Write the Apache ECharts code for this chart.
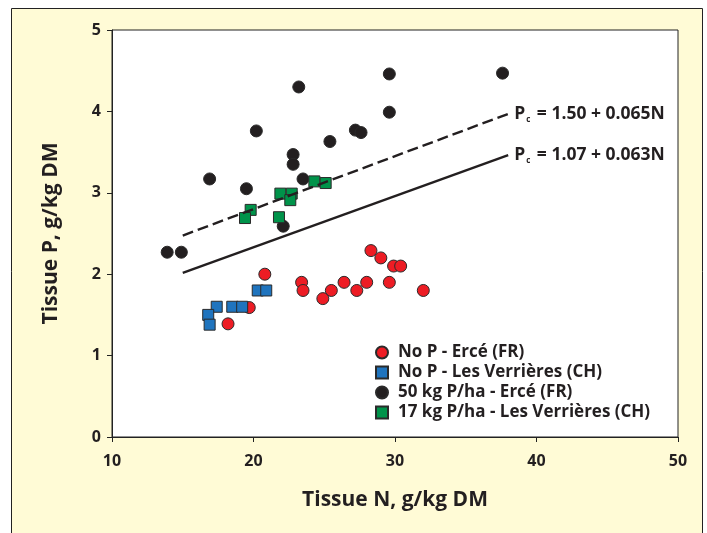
<!DOCTYPE html>
<html>
<head>
<meta charset="utf-8">
<script src="https://cdn.jsdelivr.net/npm/echarts@6/dist/echarts.min.js"></script>
<style>
html,body{margin:0;padding:0;background:#fff;}
#chart{width:707px;height:533px;}
</style>
</head>
<body>
<div id="chart"></div>
<script>
// Series names
const seriesNames = ['No P - Ercé (FR)', 'No P - Les Verrières (CH)', '50 kg P/ha - Ercé (FR)', '17 kg P/ha - Les Verrières (CH)'];

// [Tissue N, Tissue P]
const noPErce = [
  [28.3, 2.29], [29.0, 2.2], [29.9, 2.1], [30.4, 2.1], [23.4, 1.9], [23.5, 1.8],
  [26.4, 1.9], [28.0, 1.9], [29.6, 1.9], [25.5, 1.8], [27.3, 1.8], [32.0, 1.8],
  [24.9, 1.7], [20.8, 2.0], [18.2, 1.39], [19.7, 1.59]
];
const noPVerrieres = [
  [20.3, 1.8], [20.9, 1.8], [17.4, 1.6], [18.5, 1.6], [19.2, 1.6], [16.8, 1.5], [16.9, 1.38]
];
const p50Erce = [
  [13.9, 2.27], [14.9, 2.27], [16.9, 3.17], [19.5, 3.05], [20.2, 3.76], [22.1, 2.59],
  [22.8, 3.47], [22.8, 3.35], [23.2, 4.3], [23.5, 3.17], [25.4, 3.63], [27.2, 3.77],
  [27.6, 3.74], [29.6, 4.46], [29.6, 3.99], [37.6, 4.47]
];
const p17Verrieres = [
  [24.3, 3.14], [25.1, 3.12], [21.9, 2.99], [22.7, 2.99], [22.6, 2.91], [19.8, 2.79],
  [19.4, 2.69], [21.8, 2.7]
];

// Critical P dilution lines (end points) and their labels
const lineUpper = [[15, 2.475], [38, 3.97]];
const lineLower = [[15, 2.015], [38, 3.464]];
const upperLabel = ['P', 'c', ' = 1.50 + 0.065N'];
const lowerLabel = ['P', 'c', ' = 1.07 + 0.063N'];

// Axis ticks
const xTicks = {min: 10, max: 50, interval: 10};
const yTicks = {min: 0, max: 5, interval: 1};

const FONT = '"Open Sans", Lato, sans-serif';
const INK = '#231F20';
const colors = ['#ED1C24', '#1F74BE', '#231F20', '#00934A'];
const symbols = ['circle', 'rect', 'circle', 'rect'];
const sizes = [12, 11, 12, 11];
const sets = [noPErce, noPVerrieres, p50Erce, p17Verrieres];

function eqLabel(parts) {
  return {
    show: true,
    distance: 6,
    formatter: '{p|' + parts[0] + '}{s|' + parts[1] + '}{p|' + parts[2] + '}',
    rich: {
      p: {fontFamily: FONT, fontWeight: 'bold', fontSize: 17.5, color: INK, lineHeight: 20},
      s: {fontFamily: FONT, fontWeight: 'bold', fontSize: 8, color: INK, lineHeight: 8, verticalAlign: 'bottom', padding: [0, 2, 0, 1]}
    }
  };
}

const scatterSeries = sets.map((d, i) => ({
  name: seriesNames[i],
  type: 'scatter',
  data: d,
  symbol: symbols[i],
  symbolSize: sizes[i],
  itemStyle: {color: colors[i], borderColor: '#2a2a2a', borderWidth: 1, opacity: 1},
  z: 2 + i,
  silent: true
}));

const chart = echarts.init(document.getElementById('chart'), null, {renderer: 'canvas'});
chart.setOption({
  animation: false,
  backgroundColor: '#ffffff',
  graphic: [{
    type: 'rect',
    z: -10,
    silent: true,
    shape: {x: 11.5, y: 8.5, width: 691, height: 600},
    style: {fill: '#FFFBD6', stroke: '#222', lineWidth: 1}
  }],
  grid: {
    left: 112, top: 30, right: 29, bottom: 96,
    show: true, backgroundColor: '#ffffff', borderColor: '#222', borderWidth: 1
  },
  legend: {
    orient: 'vertical',
    left: 370,
    top: 339,
    itemWidth: 12,
    itemHeight: 12,
    itemGap: 3,
    selectedMode: false,
    data: seriesNames.map((n, i) => ({name: n, icon: symbols[i]})),
    textStyle: {fontFamily: FONT, fontWeight: 'bold', fontSize: 17, color: INK, padding: [0, 0, 0, 5]}
  },
  xAxis: {
    type: 'value',
    min: xTicks.min, max: xTicks.max, interval: xTicks.interval,
    name: 'Tissue N, g/kg DM',
    nameLocation: 'middle',
    nameGap: 53,
    nameTextStyle: {fontFamily: FONT, fontWeight: 'bold', fontSize: 21, color: INK},
    axisLine: {show: true, lineStyle: {color: '#222', width: 1}},
    axisTick: {show: true, inside: false, length: 5, lineStyle: {color: '#222'}},
    axisLabel: {fontFamily: FONT, fontWeight: 'bold', fontSize: 16, color: INK, margin: 16},
    splitLine: {show: false}
  },
  yAxis: {
    type: 'value',
    min: yTicks.min, max: yTicks.max, interval: yTicks.interval,
    name: 'Tissue P, g/kg DM',
    nameLocation: 'middle',
    nameGap: 50,
    nameTextStyle: {fontFamily: FONT, fontWeight: 'bold', fontSize: 21, color: INK},
    axisLine: {show: true, lineStyle: {color: '#222', width: 1}},
    axisTick: {show: true, inside: false, length: 5, lineStyle: {color: '#222'}},
    axisLabel: {fontFamily: FONT, fontWeight: 'bold', fontSize: 16, color: INK, margin: 11},
    splitLine: {show: false}
  },
  series: scatterSeries.concat([
    {
      type: 'line',
      silent: true,
      z: 10,
      symbol: 'none',
      lineStyle: {color: INK, width: 2.4, type: [11, 5]},
      endLabel: eqLabel(upperLabel),
      data: lineUpper
    },
    {
      type: 'line',
      silent: true,
      z: 10,
      symbol: 'none',
      lineStyle: {color: INK, width: 2.4, type: 'solid'},
      endLabel: eqLabel(lowerLabel),
      data: lineLower
    }
  ])
});
</script>
</body>
</html>
